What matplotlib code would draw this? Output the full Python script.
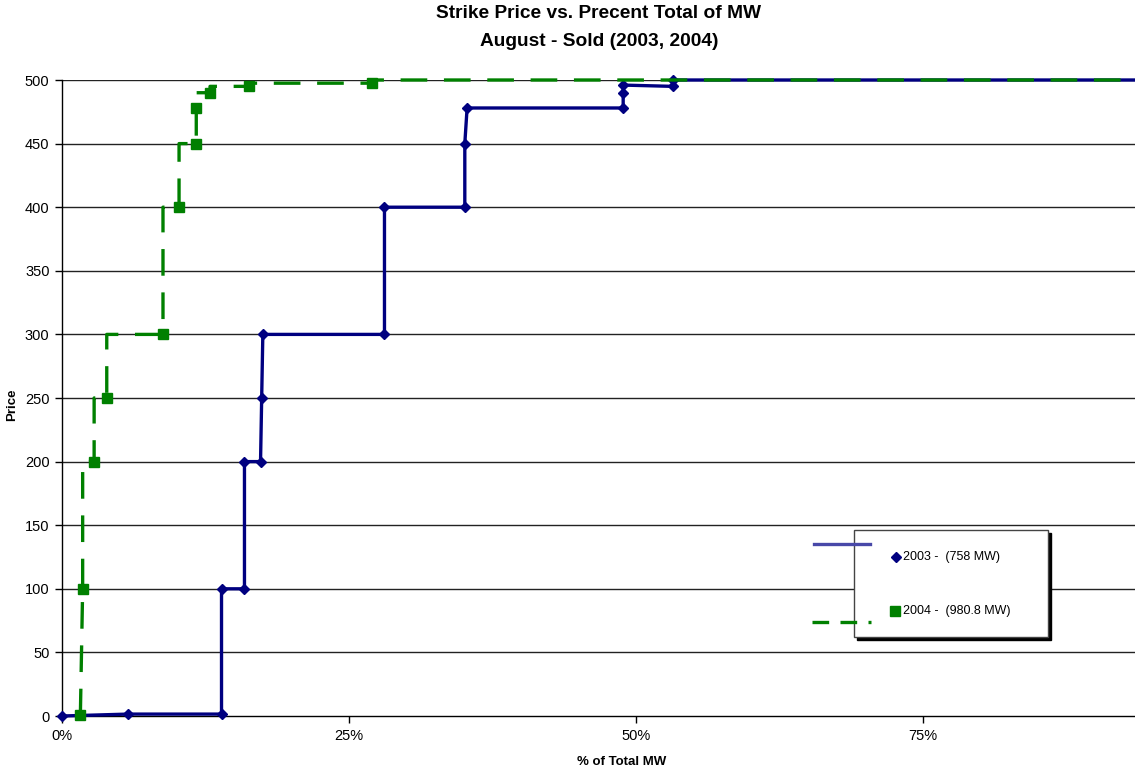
import matplotlib
matplotlib.use("Agg")
import matplotlib.pyplot as plt
from matplotlib.lines import Line2D
from matplotlib.patches import Rectangle
from matplotlib.ticker import FuncFormatter

plt.rcParams['font.family'] = ['Liberation Sans', 'DejaVu Sans']

# ── Data (percent of total MW, strike price) ─────────────────────────────────
X_2003 = [0.0, 5.75, 13.9, 13.9, 15.9, 15.9, 17.3, 17.4, 17.5, 28.1, 28.1, 35.1,
          35.1, 35.3, 48.9, 48.9, 48.9, 53.2, 53.2, 100.0]
Y_2003 = [0, 1.5, 1.5, 100, 100, 200, 200, 250, 300, 300, 400, 400,
          450, 478, 478, 490, 496, 495, 500, 500]

X_2004 = [1.6, 1.8, 1.8, 2.8, 2.8, 3.9, 3.9, 8.8, 8.8, 10.2, 10.2, 11.7,
          11.7, 11.7, 12.9, 12.9, 16.3, 16.3, 27.0, 27.0, 100.0]
Y_2004 = [0.5, 100, 200, 200, 250, 250, 300, 300, 400, 400, 450, 450,
          478, 490, 490, 495, 495, 497.5, 497.5, 500, 500]
MX_2004 = [1.6, 1.8, 2.8, 3.9, 8.8, 10.2, 11.7, 11.7, 12.9, 16.3, 27.0]
MY_2004 = [0.5, 100, 200, 250, 300, 400, 450, 478, 490, 495, 497.5]

LABELS = ["2003 -  (758 MW)", "2004 -  (980.8 MW)"]
X_TICKS = [0, 25, 50, 75]
Y_TICKS = list(range(0, 501, 50))

BLUE = "#000080"
GREEN = "#008000"

W, H = 1135, 777
fig = plt.figure(figsize=(W / 100, H / 100), dpi=100)
ax = fig.add_axes([62 / W, (H - 716) / H, (W - 62) / W, (716 - 80) / H])

def fx(px):
    return px / W

def fy(py):
    return (H - py) / H

# grid
for y in Y_TICKS[1:]:
    ax.axhline(y, color="#222222", lw=1.0, zorder=1)

ax.plot(X_2003, Y_2003, color=BLUE, lw=2.4, marker="D", ms=5, zorder=5,
        solid_joinstyle="miter", clip_on=False)
ax.plot(X_2004, Y_2004, color=GREEN, lw=2.4, dashes=(8, 5), zorder=6, clip_on=False)
ax.plot(MX_2004, MY_2004, ls="none", color=GREEN, marker="s", ms=7, zorder=6,
        clip_on=False)

ax.set_xlim(0, 93.5)
ax.set_ylim(0, 500)
ax.set_xticks(X_TICKS)
ax.xaxis.set_major_formatter(FuncFormatter(lambda v, p: f"{v:.0f}%"))
ax.set_yticks(Y_TICKS)
ax.tick_params(axis="both", direction="out", length=5, width=1, labelsize=10.5,
               colors="black", pad=4)
for s in ["top", "right"]:
    ax.spines[s].set_visible(False)
for s in ["left", "bottom"]:
    ax.spines[s].set_linewidth(1.0)
    ax.spines[s].set_zorder(4)

fig.text(fx(599), fy(14), "Strike Price vs. Precent Total of MW",
         ha="center", va="center", fontsize=13.8, fontweight="bold")
fig.text(fx(599), fy(42), "August - Sold (2003, 2004)",
         ha="center", va="center", fontsize=13.8, fontweight="bold")
fig.text(fx(622), fy(762), "% of Total MW", ha="center", va="center",
         fontsize=9.5, fontweight="bold")
fig.text(fx(12), fy(405), "Price", ha="center", va="center", rotation=90,
         fontsize=9.5, fontweight="bold")

# legend box with shadow
fig.patches.append(Rectangle((fx(857), fy(640)), (1048 - 854) / W, (637 - 530) / H,
                             transform=fig.transFigure, facecolor="black",
                             edgecolor="black", zorder=5))
fig.patches.append(Rectangle((fx(854), fy(637)), (1048 - 854) / W, (637 - 530) / H,
                             transform=fig.transFigure, facecolor="white",
                             edgecolor="#444444", lw=1.0, zorder=6))
fig.lines.append(Line2D([fx(814), fx(870)], [fy(544), fy(544)], transform=fig.transFigure,
                        color="#4848a8", lw=2.4, zorder=7))
fig.lines.append(Line2D([fx(812), fx(871)], [fy(622), fy(622)], transform=fig.transFigure,
                        color=GREEN, lw=2.4, dashes=(5, 3.4), zorder=7))
fig.lines.append(Line2D([fx(896)], [fy(557)], transform=fig.transFigure, ls="none",
                        marker="D", ms=5, color=BLUE, zorder=7))
fig.lines.append(Line2D([fx(895)], [fy(611)], transform=fig.transFigure, ls="none",
                        marker="s", ms=6.5, color=GREEN, zorder=7))
fig.text(fx(903), fy(557), LABELS[0], ha="left", va="center", fontsize=9, zorder=8)
fig.text(fx(903), fy(611), LABELS[1], ha="left", va="center", fontsize=9, zorder=8)

fig.savefig("out.png", dpi=100, facecolor="white")
